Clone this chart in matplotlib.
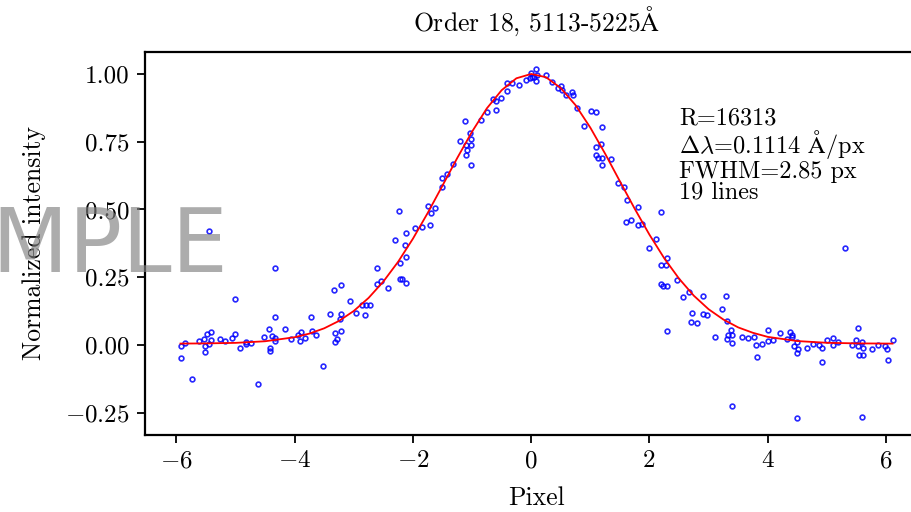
import matplotlib
matplotlib.use("Agg")
import matplotlib.pyplot as plt

plt.rcParams['font.family'] = ['cmr10', 'DejaVu Serif']
plt.rcParams['mathtext.fontset'] = 'cm'
plt.rcParams['axes.formatter.use_mathtext'] = True

title = r'Order 18, 5113-5225$\mathrm{\AA}$'
xlabel = 'Pixel'
ylabel = 'Normalized intensity'
info_lines = ['R=16313', r'$\Delta\lambda$=0.1114 $\mathrm{\AA}$/px', 'FWHM=2.85 px', '19 lines']
watermark = 'SAMPLE'

pix_x = [
    -5.44, -4.33, -5.01, -4.33, -5.92, -5.85, -5.92, -5.73, -5.62, -5.53, -5.49, -5.42, -5.42,
    -5.52, -5.44, -5.51, -5.27, -5.17, -5.06, -5.01, -4.92, -4.82, -4.82, -4.74, -4.62, -4.51,
    -4.43, -4.39, -4.33, -4.34, -4.42, -4.41, -4.16, -4.06, -3.95, -3.90, -3.91, -3.83,
    -3.72, -3.71, -3.64, -3.52, -3.40, -3.32, -3.31, -3.28, -3.23, -3.22, -3.22, -3.33, -3.22,
    -3.06, -2.96, -2.86, -2.80, -2.72, -2.81, -2.61, -2.61, -2.54, -2.42, -2.30, -2.23, -2.21,
    -2.21, -2.19, -2.12, -2.13, -2.12, -2.11, -1.96, -1.85, -1.75, -1.71,
    -1.69, -1.62, -1.51, -1.51, -1.42, -1.32, -1.20, -1.12, -1.11, -1.10, -1.08, -1.04, -1.02,
    -1.01, -1.02, -0.85, -0.75, -0.65, -0.60, -0.59, -0.51, -0.41, -0.41, -0.33, -0.21, -0.09,
    -0.005, -0.02, 0.02, 0.05, 0.08, 0.08, 0.10, 0.25,
    0.355, 0.456, 0.50, 0.52, 0.59, 0.69, 0.70, 0.78, 0.89, 1.01, 1.09, 1.19, 1.18, 1.10, 1.10,
    1.13, 1.19, 1.19, 1.35, 1.46, 1.57, 1.62, 1.80, 1.61, 1.69, 1.80, 1.88, 2.19, 2.11, 1.99,
    2.30, 2.20, 2.28, 2.20, 2.23, 2.30, 2.29,
    2.46, 2.56, 2.67, 2.90, 2.72, 2.70, 2.80, 2.90, 2.98, 3.22, 3.30, 3.31, 3.10, 3.31, 3.33,
    3.38, 3.40, 3.40, 3.39, 3.56, 3.66, 3.77, 3.81, 3.90, 3.82, 4.01, 4.01, 4.09, 4.20, 4.32, 4.38,
    4.41, 4.41, 4.49, 4.44, 4.51, 4.50, 4.50, 4.67, 4.77, 4.87, 4.92, 4.92, 5.00, 5.11, 5.11,
    5.19, 5.31, 5.42, 5.50, 5.52, 5.52, 5.59, 5.61, 5.54, 5.61, 5.60, 5.77, 5.87, 5.98, 6.02,
    6.03, 6.11,
]
intensity = [
    0.420, 0.285, 0.170, 0.104, -0.002, 0.009, -0.049, -0.127, 0.014, 0.021, 0.042, 0.049, 0.017,
    -0.002, 0.004, -0.027, 0.021, 0.015, 0.025, 0.042, -0.010, 0.011, 0.005, 0.009, -0.143, 0.030,
    0.059, 0.032, 0.025, 0.014, -0.012, -0.021, 0.060, 0.021, 0.038, 0.049, 0.016, 0.025,
    0.102, 0.052, 0.038, -0.076, 0.116, 0.044, 0.011, 0.021, 0.097, 0.116, 0.053, 0.203, 0.221,
    0.161, 0.118, 0.146, 0.149, 0.146, 0.112, 0.284, 0.224, 0.235, 0.210, 0.387, 0.496, 0.304,
    0.244, 0.245, 0.229, 0.369, 0.414, 0.326, 0.433, 0.437, 0.514, 0.443,
    0.487, 0.504, 0.582, 0.615, 0.632, 0.668, 0.752, 0.825, 0.739, 0.702, 0.720, 0.783, 0.760,
    0.738, 0.663, 0.829, 0.861, 0.909, 0.867, 0.900, 0.911, 0.967, 0.938, 0.967, 0.959, 0.979,
    1.005, 0.986, 0.990, 0.990, 1.017, 0.974, 0.997, 0.996,
    0.970, 0.947, 0.955, 0.940, 0.924, 0.934, 0.922, 0.875, 0.807, 0.865, 0.861, 0.804, 0.743, 0.730, 0.702,
    0.691, 0.690, 0.663, 0.685, 0.598, 0.583, 0.535, 0.509, 0.455, 0.462, 0.444, 0.446, 0.492, 0.392, 0.359,
    0.322, 0.296, 0.296, 0.225, 0.219, 0.219, 0.051,
    0.239, 0.178, 0.194, 0.180, 0.119, 0.084, 0.080, 0.116, 0.110, 0.133, 0.181, 0.090, 0.031, 0.023, 0.036,
    0.055, 0.038, 0.007, -0.225, 0.030, 0.025, 0.030, -0.001, 0.003, -0.045, 0.054, 0.016, 0.018, 0.043, 0.021, 0.048,
    0.038, 0.028, 0.011, -0.005, -0.016, -0.028, -0.268, -0.011, 0.005, 0.001, -0.010, -0.063, 0.020, 0.027, 0.000,
    0.011, 0.358, -0.001, 0.017, 0.064, -0.002, 0.011, -0.011, -0.037, -0.037, -0.264, -0.016, -0.001, -0.004, -0.014,
    -0.054, 0.018,
]

fit_x = [-5.93, -5.5, -5.0, -4.5, -4.0, -3.75, -3.5, -3.25, -3.0, -2.75, -2.5, -2.25, -2.0,
         -1.75, -1.5, -1.25, -1.0, -0.75, -0.5, -0.25, 0.0, 0.25, 0.5, 0.75, 1.0, 1.25, 1.5,
         1.75, 2.0, 2.25, 2.5, 2.75, 3.0, 3.25, 3.5, 3.75, 4.0, 4.5, 5.0, 5.5, 6.11]
fit_y = [0.0053, 0.0059, 0.0079, 0.0138, 0.0287, 0.0421, 0.0616, 0.0888, 0.1256, 0.1736, 0.2340,
         0.3070, 0.392, 0.487, 0.588, 0.690, 0.787, 0.873, 0.940, 0.984, 1.000, 0.988, 0.948,
         0.885, 0.802, 0.706, 0.604, 0.503, 0.407, 0.320, 0.245, 0.182, 0.132, 0.094, 0.065,
         0.045, 0.030, 0.0146, 0.0082, 0.0060, 0.0052]

fig = plt.figure(figsize=(9.12, 5.12), dpi=100)
ax = fig.add_axes([145/912, 77/512, (928-145)/912, (435-52)/512])

ax.plot(pix_x, intensity, 'o', ms=3.4, mfc='none', mec='blue', mew=1.2, alpha=0.85, zorder=2)
ax.plot(fit_x, fit_y, '-', color='red', lw=1.3, zorder=3)

ax.set_xlim(-6.53, 6.71)
ax.set_ylim(-0.332, 1.081)
ax.set_xticks([-6, -4, -2, 0, 2, 4, 6])
ax.set_yticks([-0.25, 0.0, 0.25, 0.5, 0.75, 1.0])
ax.set_yticklabels(['$-0.25$', '0.00', '0.25', '0.50', '0.75', '1.00'])
ax.set_xticklabels(['$-6$', '$-4$', '$-2$', '0', '2', '4', '6'])
ax.tick_params(labelsize=18, width=1.3, length=6, pad=5)
for s in ax.spines.values():
    s.set_linewidth(1.6)

ax.set_xlabel(xlabel, fontsize=18.5, labelpad=10)
ax.set_ylabel(ylabel, fontsize=18.5, labelpad=14)
ax.set_title(title, fontsize=18.5, pad=15)

ax.text(0.682, 0.855, '\n'.join(info_lines), transform=ax.transAxes, fontsize=17.5,
        va='top', ha='left', linespacing=0.95)

fig.text(228/912, 1 - 272/512, watermark, fontsize=64, color='#808080', alpha=0.65,
         ha='right', va='baseline', family='DejaVu Sans', zorder=10)

fig.savefig('out.png', dpi=100)
